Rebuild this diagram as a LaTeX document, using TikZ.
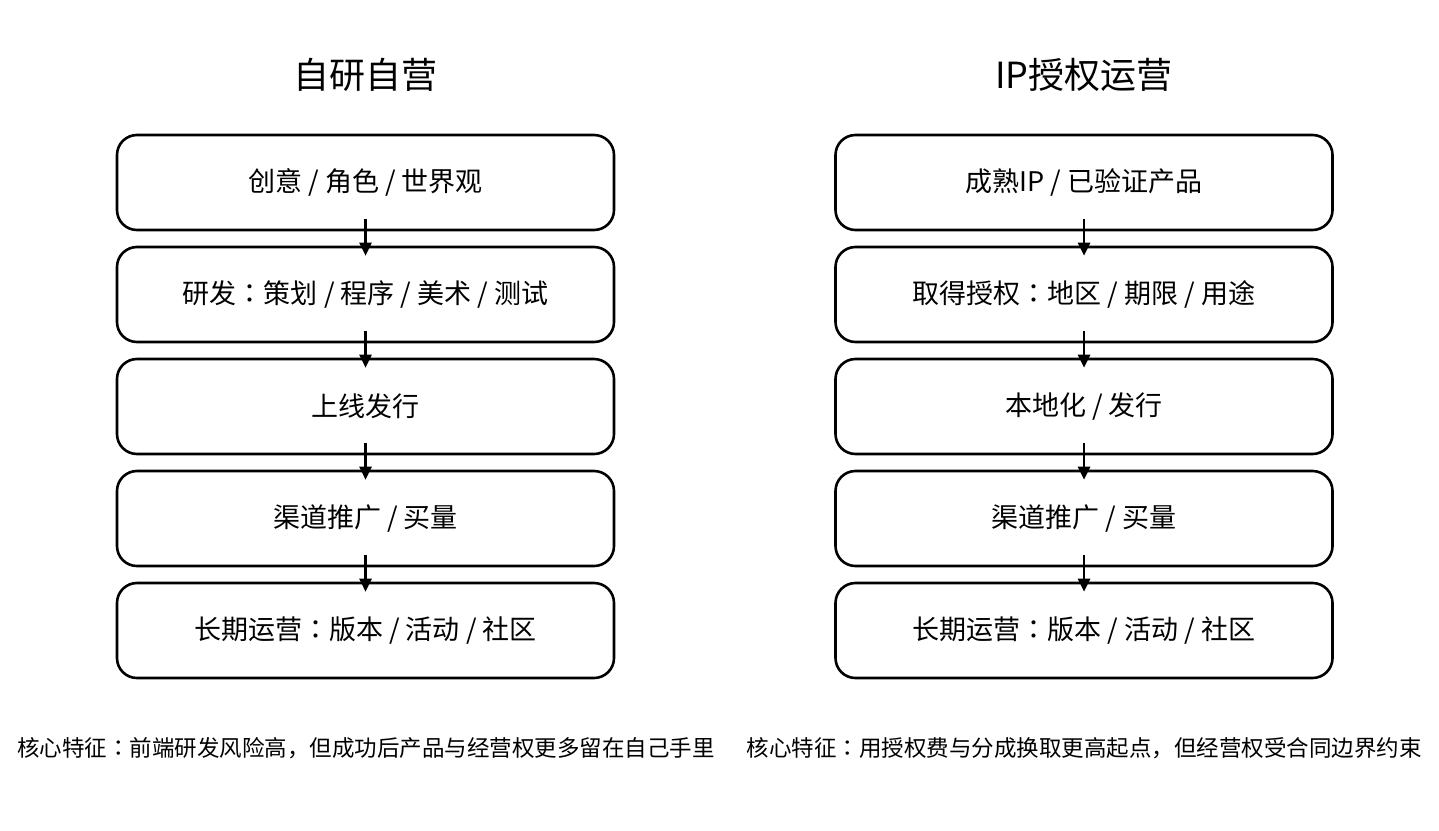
\documentclass[tikz,border=0pt]{standalone}
\usepackage{fontspec}
\setmainfont{Noto Sans CJK SC}
\newfontfamily\jpfont{Noto Sans CJK JP}
\newcommand{\zc}{{\jpfont ：}} % centred colon
\usetikzlibrary{arrows.meta}
\tikzset{ b/.style = { rectangle % step box
, rounded corners = 20pt
, draw
, line width = 2.6pt
, minimum width = 497pt
, minimum height = 95pt
, font = \fontsize{27}{30}\selectfont
}
, t/.style = { rectangle % title
, font = \fontsize{36}{40}\selectfont
}
, c/.style = { rectangle % caption
, font = \fontsize{22.5}{26}\selectfont
}
}

\begin{document}
\begin{tikzpicture}[x=1pt, y=1pt,
        edge_style/.style={draw=black, line width=2.6pt, -{Triangle[length=13pt,width=12pt]},
                           shorten <=-12pt, shorten >=-10pt}]
        \useasboundingbox (0,0) rectangle (1439,-830);

            \node [t](tl) at (365.5,-75) {自研自营};
            \node [b](l1) at (365.5,-182.5) {创意 / 角色 / 世界观};
            \node [b](l2) at (365.5,-294.5) {研发\zc 策划 / 程序 / 美术 / 测试};
            \node [b](l3) at (365.5,-406.5) {上线发行};
            \node [b](l4) at (365.5,-518.5) {渠道推广 / 买量};
            \node [b](l5) at (365.5,-630.5) {长期运营\zc 版本 / 活动 / 社区};

            \node [t](tr) at (1084,-75) {IP授权运营};
            \node [b](r1) at (1084,-182.5) {成熟IP / 已验证产品};
            \node [b](r2) at (1084,-294.5) {取得授权\zc 地区 / 期限 / 用途};
            \node [b](r3) at (1084,-406.5) {本地化 / 发行};
            \node [b](r4) at (1084,-518.5) {渠道推广 / 买量};
            \node [b](r5) at (1084,-630.5) {长期运营\zc 版本 / 活动 / 社区};

            \foreach \i/\j in {1/2,2/3,3/4,4/5}{
                \draw [edge_style] (l\i.south) -- (l\j.north);
                \draw [edge_style] (r\i.south) -- (r\j.north);
            }

            \node [c](cl) at (366,-748) {核心特征\zc 前端研发风险高，但成功后产品与经营权更多留在自己手里};
            \node [c](cr) at (1084,-748) {核心特征\zc 用授权费与分成换取更高起点，但经营权受合同边界约束};

        \end{tikzpicture}
\end{document}
